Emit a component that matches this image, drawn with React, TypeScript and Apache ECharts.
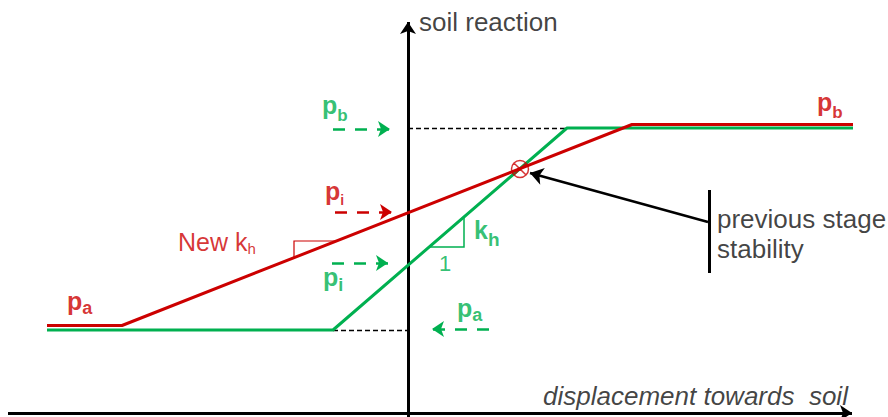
import React, { useEffect, useRef } from "react";
import * as echarts from "echarts";

// Coordinate system: displacement (x) vs soil reaction (y), origin at axes crossing
const RED = "#cc0000";
const GREEN = "#00b050";
const INK = "#111111";

// Soil reaction curves (elasto-plastic)
const redCurve: [number, number][] = [[-361, 87.5], [-286, 87.5], [224, 288.5], [445, 288.5]];
const greenCurve: [number, number][] = [[-361, 83], [-75, 83], [159, 285], [445, 285]];

// Axes
const xAxisLine: [number, number][] = [[-400, 0], [444, 0]];
const yAxisLine: [number, number][] = [[0, -4], [0, 391]];

// Reference dashed levels (black)
const pbLevel: [number, number][] = [[0, 285], [159, 285]];
const paLevel: [number, number][] = [[-75, 83], [0, 83]];

// Dashed indicator arrows
const greenPbArrow: [number, number][] = [[-75, 284], [-18, 284]];
const redPiArrow: [number, number][] = [[-73, 201], [-16, 201]];
const greenPiArrow: [number, number][] = [[-76, 150], [-20, 150]];
const greenPaArrow: [number, number][] = [[81, 84], [24, 84]];

// Slope triangles
const redTriangle: [number, number][] = [[-114, 155.5], [-114, 172], [-71.5, 172]];
const greenTriangle: [number, number][] = [[20, 166], [56, 166], [56, 197]];

// Previous stage stability point and pointer
const stabilityPoint: [number, number] = [112, 244];
const pointer: [number, number][] = [[300, 191], [122, 240]];
const pointerBar: [number, number][] = [[301, 223], [301, 140]];

// Text labels: [x, y, rich text]
const labels: { pos: [number, number]; text: string }[] = [
  { pos: [11, 391], text: "{txt|soil reaction}" },
  { pos: [135, 17], text: "{it|displacement towards  soil}" },
  { pos: [309, 179], text: "{txt2|previous stage\nstability}" },
  { pos: [-230, 171], text: "{kr|New k}{hr|h}" },
  { pos: [66, 182.75], text: "{kg|k}{hg|h}" },
  { pos: [31, 149.4], text: "{one|1}" },
  { pos: [409, 311], text: "{pr|p}{br|b}" },
  { pos: [-86, 308], text: "{pg|p}{bg|b}" },
  { pos: [-83, 221.75], text: "{pr|p}{ir|i}" },
  { pos: [-85, 136], text: "{pg|p}{ig|i}" },
  { pos: [-341, 111.75], text: "{pr|p}{ar|a}" },
  { pos: [49, 105], text: "{pg|p}{ag|a}" },
];

const FONT = "Liberation Sans, Arial, sans-serif";

const mainTok = (color: string, size: number, weight: string) => ({
  color,
  fontSize: size,
  fontWeight: weight,
  fontFamily: FONT,
  verticalAlign: "top",
  lineHeight: size,
});
const subTok = (color: string, size: number, weight: string, padTop: number) => ({
  color,
  fontSize: size,
  fontWeight: weight,
  fontFamily: FONT,
  verticalAlign: "top",
  lineHeight: size,
  padding: [padTop, 0, 0, 0],
});

const rich: any = {
  txt: { color: INK, fontSize: 26, fontFamily: FONT },
  txt2: { color: INK, fontSize: 26, fontFamily: FONT, lineHeight: 30 },
  it: { color: INK, fontSize: 26, fontFamily: FONT, fontStyle: "italic" },
  one: { color: GREEN, fontSize: 22, fontFamily: FONT },
  kr: mainTok(RED, 25, "normal"),
  hr: subTok(RED, 15, "normal", 11.5),
  kg: mainTok(GREEN, 25, "bold"),
  hg: subTok(GREEN, 19, "bold", 12),
  pr: mainTok(RED, 25, "bold"),
  pg: mainTok(GREEN, 25, "bold"),
  br: subTok(RED, 17, "bold", 14),
  bg: subTok(GREEN, 17, "bold", 14),
  ir: subTok(RED, 14, "bold", 14),
  ig: subTok(GREEN, 18, "bold", 11),
  ar: subTok(RED, 18, "bold", 10),
  ag: subTok(GREEN, 18, "bold", 10),
};

const segment = (
  coords: [number, number][],
  color: string,
  width: number,
  arrow: boolean,
  size: any = 10,
  dash: any = "solid"
) => ({
  type: "lines",
  coordinateSystem: "cartesian2d",
  polyline: false,
  silent: true,
  symbol: arrow ? ["none", "arrow"] : ["none", "none"],
  symbolSize: size,
  lineStyle: { color, width, type: dash, opacity: 1, curveness: 0 },
  itemStyle: { color },
  data: [{ coords }],
  z: 3,
});

const polyline = (coords: [number, number][], color: string, width: number) => ({
  type: "lines",
  coordinateSystem: "cartesian2d",
  polyline: true,
  silent: true,
  lineStyle: { color, width, opacity: 1 },
  data: [{ coords }],
  z: 3,
});

export default function App() {
  const ref = useRef<HTMLDivElement>(null);
  useEffect(() => {
    if (!ref.current) return;
    const chart = echarts.init(ref.current, undefined, { renderer: "svg" });
    chart.setOption({
      animation: false,
      backgroundColor: "#ffffff",
      grid: { left: 0, right: 0, top: 0, bottom: 0 },
      xAxis: { type: "value", min: -408, max: 480, show: false },
      yAxis: { type: "value", min: -4, max: 413, show: false },
      series: [
        segment(xAxisLine, "#000000", 3, true, [8, 12]),
        segment(yAxisLine, "#000000", 3, true, [8, 12]),
        segment(pbLevel, "#000000", 1.4, false, 0, [5, 3]),
        segment(paLevel, "#000000", 1.4, false, 0, [5, 3]),
        {
          type: "line",
          data: greenCurve,
          showSymbol: false,
          silent: true,
          lineStyle: { color: GREEN, width: 3 },
          z: 4,
        },
        {
          type: "line",
          data: redCurve,
          showSymbol: false,
          silent: true,
          lineStyle: { color: RED, width: 3 },
          z: 5,
        },
        segment(greenPbArrow, GREEN, 2.5, true, [7, 12], [12, 10]),
        segment(redPiArrow, RED, 2.5, true, [7, 12], [12, 10]),
        segment(greenPiArrow, GREEN, 2.5, true, [7, 12], [12, 10]),
        segment(greenPaArrow, GREEN, 2.5, true, [7, 12], [12, 10]),
        polyline(redTriangle, RED, 1.2),
        polyline(greenTriangle, GREEN, 1.5),
        segment(pointer, "#000000", 2.5, true, [9, 13]),
        segment(pointerBar, "#000000", 3, false),
        {
          type: "scatter",
          silent: true,
          symbol:
            "path://M0,8A8,8 0 1,1 16,8A8,8 0 1,1 0,8Z M2.3,2.3L13.7,13.7 M13.7,2.3L2.3,13.7",
          symbolSize: 17,
          itemStyle: { color: "rgba(255,255,255,0)", borderColor: RED, borderWidth: 1.5 },
          data: [stabilityPoint],
          z: 10,
        },
        {
          type: "scatter",
          silent: true,
          symbolSize: 1,
          itemStyle: { color: "rgba(0,0,0,0)" },
          label: {
            show: true,
            position: "inside",
            align: "left",
            verticalAlign: "middle",
            formatter: (p: any) => p.name,
            rich,
          },
          data: labels.map((l) => ({ name: l.text, value: l.pos })),
          z: 20,
        },
      ],
    });
    return () => chart.dispose();
  }, []);
  return (
    <div
      ref={ref}
      style={{ position: "fixed", left: 0, top: 0, width: 888, height: 417, background: "#fff" }}
    />
  );
}
